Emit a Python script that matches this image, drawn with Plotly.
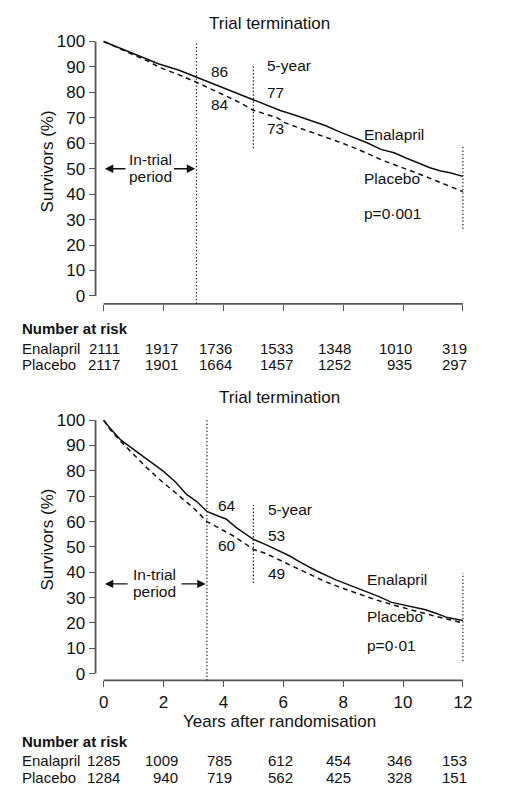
import plotly.graph_objects as go

# ---------------- data ----------------
# Panel A (upper): survival curves, years vs % surviving
prev_enal_t = [0, 0.5, 1.0, 1.5, 1.85, 2.5, 3.1, 3.5, 4.0, 4.5, 5.0, 5.4, 5.9, 6.4, 6.84,
               7.4, 7.9, 8.38, 8.8, 9.26, 9.7, 10.1, 10.57, 10.9, 11.23, 11.6, 12.0]
prev_enal_v = [100, 97.7, 95.3, 93.0, 91.2, 88.8, 86.0, 84.2, 81.8, 79.4, 77.0, 75.3, 72.9, 71.0, 69.3,
               67.0, 64.4, 62.1, 60.2, 57.6, 56.3, 54.2, 51.8, 50.4, 49.2, 48.3, 47.0]
prev_plac_t = [0, 0.5, 1.0, 1.5, 1.85, 2.5, 3.1, 3.5, 4.04, 4.5, 5.0, 5.4, 5.8, 6.07, 6.6,
               7.0, 7.5, 7.94, 8.5, 9.0, 9.36, 9.8, 10.2, 10.68, 11.1, 11.5, 12.0]
prev_plac_v = [100, 97.4, 94.9, 92.2, 89.9, 87.0, 84.0, 81.8, 79.0, 76.3, 73.0, 71.4, 70.0, 68.0, 65.8,
               64.2, 62.2, 60.2, 57.6, 55.0, 53.1, 51.2, 49.5, 47.3, 45.3, 43.4, 41.0]

# Panel B (lower)
treat_enal_t = [0, 0.2, 0.58, 1.0, 1.35, 1.7, 2.0, 2.4, 2.77, 3.1, 3.45, 3.8, 4.09, 4.42, 4.7, 5.0,
                5.4, 5.84, 6.2, 6.55, 7.1, 7.76, 8.2, 8.74, 9.2, 9.62, 10.2, 10.72, 11.1, 11.48, 12.0]
treat_enal_v = [100, 97.0, 92.1, 88.5, 85.6, 82.6, 79.8, 75.6, 70.7, 68.0, 64.0, 62.3, 61.0, 57.7, 55.6, 53.0,
                51.0, 48.6, 46.5, 44.1, 40.6, 37.0, 35.0, 32.4, 30.4, 28.1, 26.6, 25.3, 23.8, 22.1, 21.0]
treat_plac_t = [0, 0.2, 0.5, 0.8, 1.1, 1.46, 1.9, 2.33, 2.7, 2.99, 3.45, 3.9, 4.31, 4.7, 5.0,
                5.4, 5.9, 6.4, 6.88, 7.4, 7.98, 8.5, 9.07, 9.7, 10.39, 10.7, 11.05, 11.5, 12.0]
treat_plac_v = [100, 96.6, 92.5, 88.8, 85.3, 81.0, 76.3, 72.0, 68.4, 65.5, 60.0, 57.2, 54.5, 51.5, 49.0,
                47.5, 44.7, 41.7, 38.9, 36.3, 33.7, 31.5, 29.2, 27.0, 24.6, 23.8, 22.7, 21.5, 20.0]

# Trial termination (years) for each panel
termination = [3.1, 3.45]

# Survival (%) quoted at termination, 5 years and 12 years: (enalapril, placebo)
prev_marks = {"term": (86, 84), "5": (77, 73), "12": (47, 41)}
treat_marks = {"term": (64, 60), "5": (53, 49), "12": (21, 20)}
p_values = ["p=0·001", "p=0·01"]

# Number at risk
risk_years = [0, 2, 4, 6, 8, 10, 12]
prev_risk_enal = [2111, 1917, 1736, 1533, 1348, 1010, 319]
prev_risk_plac = [2117, 1901, 1664, 1457, 1252, 935, 297]
treat_risk_enal = [1285, 1009, 785, 612, 454, 346, 153]
treat_risk_plac = [1284, 940, 719, 562, 425, 328, 151]

y_ticks = list(range(0, 101, 10))
x_ticks = [0, 2, 4, 6, 8, 10, 12]

# ---------------- styling ----------------
W, H = 532, 791
FONT = "Liberation Sans"
INK = "#111111"
AXIS = "#555555"
SOLID_W = 1.5
DASH = "5px,4px"
DOT = "1.3px,2.2px"

X_RANGE = [-0.27, 12.05]
X_DOM = [97 / W, 471.5 / W]
Y_RANGES = [[-3.1, 100.6], [-2.7, 100.6]]
Y_DOMS = [[(H - 300) / H, (H - 32.45) / H], [(H - 681.94) / H, (H - 416.46) / H]]


def py(pix):
    """paper y from a pixel row measured from the top"""
    return (H - pix) / H


fig = go.Figure()

panels = [
    (prev_enal_t, prev_enal_v, prev_plac_t, prev_plac_v),
    (treat_enal_t, treat_enal_v, treat_plac_t, treat_plac_v),
]
for i, (et, ev, pt, pv) in enumerate(panels):
    xa = "x" if i == 0 else "x2"
    ya = "y" if i == 0 else "y2"
    fig.add_trace(go.Scatter(x=et, y=ev, mode="lines", xaxis=xa, yaxis=ya,
                             line=dict(color=INK, width=SOLID_W), showlegend=False,
                             hoverinfo="skip"))
    fig.add_trace(go.Scatter(x=pt, y=pv, mode="lines", xaxis=xa, yaxis=ya,
                             line=dict(color=INK, width=SOLID_W, dash=DASH), showlegend=False,
                             hoverinfo="skip"))

shapes = []
annotations = []
label_font = dict(family=FONT, size=15.5, color=INK)

panel_info = [
    dict(marks=prev_marks, p=p_values[0], term=termination[0], xref="x", yref="y",
         five=(58.1, 90.7), twelve=(26.4, 58.9), arrow_y=50.0, arrow_txt_x=1.55,
         arrow_tail=(0.78, 2.3),
         pos=dict(term_x=3.51, five_x=5.38, twelve_x=12.16, name_x=8.64,
                  term_y=(88.4, 75.2), five_y=(90.7, 79.8, 66.0),
                  twelve_y=(60.9, 50.0, 32.5), name_y=(63.5, 46.0, 32.5)),
         title_y=py(16)),
    dict(marks=treat_marks, p=p_values[1], term=termination[1], xref="x2", yref="y2",
         five=(35.8, 66.5), twelve=(5.0, 39.7), arrow_y=35.4, arrow_txt_x=1.7,
         arrow_tail=(0.85, 2.55),
         pos=dict(term_x=3.75, five_x=5.42, twelve_x=12.2, name_x=8.74,
                  term_y=(66.5, 50.5), five_y=(64.6, 54.5, 39.7),
                  twelve_y=(37.0, 26.6, 13.0), name_y=(37.0, 22.5, 11.0)),
         title_y=py(395)),
]

for i, info in enumerate(panel_info):
    xr, yr = info["xref"], info["yref"]
    ydom = yr + " domain"
    xdom = xr + " domain"
    ymin = Y_RANGES[i][0]
    # axis lines (offset frame)
    shapes.append(dict(type="line", xref=xdom, yref=yr, x0=0, x1=0, y0=0, y1=100,
                       line=dict(color=AXIS, width=1.8)))
    shapes.append(dict(type="line", xref=xr, yref=ydom, x0=0, x1=12, y0=0, y1=0,
                       line=dict(color=AXIS, width=1.8)))
    # trial termination, 5-year and 12-year reference lines
    shapes.append(dict(type="line", xref=xr, yref=yr, x0=info["term"], x1=info["term"],
                       y0=ymin, y1=100, line=dict(color=INK, width=1.2, dash=DOT)))
    shapes.append(dict(type="line", xref=xr, yref=yr, x0=5, x1=5,
                       y0=info["five"][0], y1=info["five"][1],
                       line=dict(color=INK, width=1.2, dash=DOT)))
    shapes.append(dict(type="line", xref=xr, yref=yr, x0=12, x1=12,
                       y0=info["twelve"][0], y1=info["twelve"][1],
                       line=dict(color=INK, width=1.2, dash=DOT)))

    # title above the termination line
    annotations.append(dict(text="Trial termination", xref=xr, yref="paper",
                            x=info["term"], xshift=73, y=info["title_y"],
                            xanchor="center", yanchor="middle", showarrow=False,
                            font=dict(family=FONT, size=17, color=INK)))
    # y axis title
    annotations.append(dict(text="Survivors (%)", xref="paper", yref=yr,
                            x=48 / W, y=53, textangle=-90, xanchor="center",
                            yanchor="middle", showarrow=False,
                            font=dict(family=FONT, size=17, color=INK)))

    pos = info["pos"]
    m = info["marks"]

    def lab(text, x, y):
        annotations.append(dict(text=text, xref=xr, yref=yr, x=x, y=y,
                                xanchor="left", yanchor="middle", showarrow=False,
                                font=label_font))

    lab(str(m["term"][0]), pos["term_x"], pos["term_y"][0])
    lab(str(m["term"][1]), pos["term_x"], pos["term_y"][1])
    lab("5-year", pos["five_x"], pos["five_y"][0])
    lab(str(m["5"][0]), pos["five_x"], pos["five_y"][1])
    lab(str(m["5"][1]), pos["five_x"], pos["five_y"][2])
    lab("12-year", pos["twelve_x"], pos["twelve_y"][0])
    lab(str(m["12"][0]), pos["twelve_x"], pos["twelve_y"][1])
    lab(str(m["12"][1]), pos["twelve_x"], pos["twelve_y"][2])
    lab("Enalapril", pos["name_x"], pos["name_y"][0])
    lab("Placebo", pos["name_x"], pos["name_y"][1])
    lab(info["p"], pos["name_x"], pos["name_y"][2])

    # in-trial period double arrow
    ay = info["arrow_y"]
    annotations.append(dict(text="", xref=xr, yref=yr, x=0.04, y=ay,
                            axref=xr, ayref=yr, ax=info["arrow_tail"][0], ay=ay,
                            showarrow=True, arrowhead=2, arrowsize=1.3, arrowwidth=1.3,
                            arrowcolor=INK))
    annotations.append(dict(text="", xref=xr, yref=yr, x=info["term"] - 0.04, y=ay,
                            axref=xr, ayref=yr, ax=info["arrow_tail"][1], ay=ay,
                            showarrow=True, arrowhead=2, arrowsize=1.3, arrowwidth=1.3,
                            arrowcolor=INK))
    annotations.append(dict(text="In-trial", xref=xr, yref=yr, x=info["arrow_txt_x"], y=ay,
                            yshift=9, xanchor="center", yanchor="middle", showarrow=False,
                            font=label_font))
    annotations.append(dict(text="period", xref=xr, yref=yr, x=info["arrow_txt_x"], y=ay,
                            yshift=-8, xanchor="center", yanchor="middle", showarrow=False,
                            font=label_font))

# x axis title for the lower panel
annotations.append(dict(text="Years after randomisation", xref="paper", yref="paper",
                        x=284 / W, y=py(724), xanchor="center", yanchor="middle",
                        showarrow=False, font=dict(family=FONT, size=17, color=INK)))

# Number at risk tables
col_shift = [18, 16, 11, 12, 10, 11, 6]
tables = [
    ("x", prev_risk_enal, prev_risk_plac, (325, 345, 362)),
    ("x2", treat_risk_enal, treat_risk_plac, (744, 763, 780)),
]
risk_font = dict(family=FONT, size=15, color=INK)
for xr, enal, plac, (hy, ey, ply) in tables:
    annotations.append(dict(text="<b>Number at risk</b>", xref="paper", yref="paper",
                            x=20 / W, y=py(hy), xanchor="left", yanchor="middle",
                            showarrow=False, font=risk_font))
    for name, row, rowy in (("Enalapril", enal, ey), ("Placebo", plac, ply)):
        annotations.append(dict(text=name, xref="paper", yref="paper", x=20 / W, y=py(rowy),
                                xanchor="left", yanchor="middle", showarrow=False,
                                font=risk_font))
        for yr_, n, sh in zip(risk_years, row, col_shift):
            annotations.append(dict(text=str(n), xref=xr, yref="paper", x=yr_, xshift=sh,
                                    y=py(rowy), xanchor="right", yanchor="middle",
                                    showarrow=False, font=risk_font))

tick_font = dict(family=FONT, size=17, color=INK)
common_y = dict(tickmode="array", tickvals=y_ticks, ticks="outside", ticklen=6,
                tickwidth=1.4, tickcolor=AXIS, showgrid=False, zeroline=False,
                showline=False, tickfont=tick_font, fixedrange=True)
common_x = dict(tickmode="array", tickvals=x_ticks, ticks="outside", ticklen=6,
                tickwidth=1.4, tickcolor=AXIS, showgrid=False, zeroline=False,
                showline=False, tickfont=tick_font, range=X_RANGE, domain=X_DOM,
                fixedrange=True)

fig.update_layout(
    width=W, height=H,
    margin=dict(l=0, r=0, t=0, b=0),
    paper_bgcolor="white", plot_bgcolor="white",
    xaxis=dict(**common_x, anchor="y", showticklabels=False),
    yaxis=dict(**common_y, range=Y_RANGES[0], domain=Y_DOMS[0], anchor="x"),
    xaxis2=dict(**common_x, anchor="y2", showticklabels=True),
    yaxis2=dict(**common_y, range=Y_RANGES[1], domain=Y_DOMS[1], anchor="x2"),
    shapes=shapes,
    annotations=annotations,
    showlegend=False,
)

fig.write_html("out.html")
